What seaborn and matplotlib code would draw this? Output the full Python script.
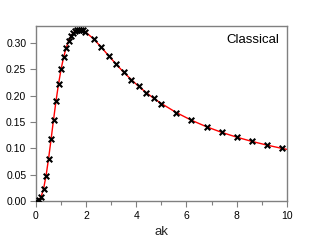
import matplotlib
matplotlib.use("Agg")
import matplotlib.pyplot as plt
import seaborn as sns
import pandas as pd
from matplotlib.ticker import MultipleLocator

ak = [0.0, 0.1, 0.2, 0.3, 0.4, 0.5, 0.6, 0.7, 0.8, 0.9, 1.0, 1.1, 1.2, 1.3, 1.4,
      1.47, 1.55, 1.62, 1.7, 1.78, 1.86, 1.96, 2.3, 2.6, 2.9, 3.2, 3.5, 3.8, 4.1,
      4.4, 4.7, 5.0, 5.6, 6.2, 6.8, 7.4, 8.0, 8.6, 9.2, 9.8]
val = [0.0, 0.001, 0.0074, 0.0229, 0.0476, 0.080, 0.1167, 0.1545, 0.1904, 0.2225,
       0.250, 0.2725, 0.2902, 0.3036, 0.3132, 0.3179, 0.3217, 0.3237, 0.3247, 0.3246,
       0.3236, 0.3212, 0.3075, 0.2919, 0.2754, 0.2594, 0.2442, 0.2302, 0.2173, 0.2055,
       0.1947, 0.1849, 0.1677, 0.1532, 0.1409, 0.1303, 0.1212, 0.1132, 0.1062, 0.0999]
line_ak = ak + [10.0]
line_val = val + [0.0980]

pts = pd.DataFrame({"ak": ak, "val": val})
curve = pd.DataFrame({"ak": line_ak, "val": line_val})

sns.set_style("white")
plt.rcParams['font.family'] = ['Liberation Sans', 'DejaVu Sans']

fig = plt.figure(figsize=(3.09, 2.47), dpi=100)
ax = fig.add_axes([0.1165, 0.1862, 0.8115, 0.7085])

sns.lineplot(data=curve, x="ak", y="val", color="red", linewidth=1.0, ax=ax, sort=False)
sns.scatterplot(data=pts, x="ak", y="val", marker="x", color="black", s=16,
                linewidth=1.5, ax=ax, zorder=3)

ax.set_xlim(0, 10)
ax.set_ylim(0, 0.332)
ax.xaxis.set_major_locator(MultipleLocator(2))
ax.xaxis.set_minor_locator(MultipleLocator(1))
ax.yaxis.set_major_locator(MultipleLocator(0.05))
ax.yaxis.set_major_formatter(matplotlib.ticker.FormatStrFormatter('%.2f'))

for s in ax.spines.values():
    s.set_color("#808080")
    s.set_linewidth(1.0)
    s.set_visible(True)

ax.tick_params(axis='both', which='major', direction='out', length=4, width=0.8,
               color="#808080", labelsize=7.5, labelcolor="black", pad=3)
ax.tick_params(axis='x', which='minor', direction='out', length=3, width=0.8,
               color="#808080", bottom=True)
ax.tick_params(left=True, bottom=True, top=False, right=False)

ax.set_xlabel("ak", fontsize=9.5, labelpad=4)
ax.set_ylabel("")
ax.text(0.970, 0.92, "Classical", transform=ax.transAxes, ha="right", va="center",
        fontsize=9.5, color="black")

fig.savefig("out.png", dpi=100)
